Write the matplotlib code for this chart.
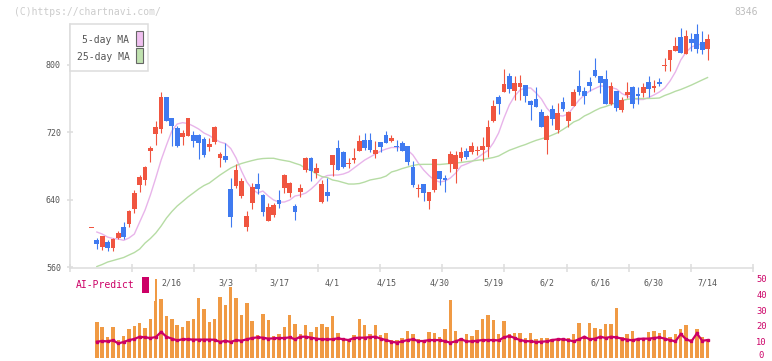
import numpy as np
import matplotlib
matplotlib.use("Agg")
import matplotlib.pyplot as plt
from matplotlib.patches import Rectangle
from matplotlib.transforms import blended_transform_factory, ScaledTranslation

# ---------------- data ----------------
opens = [607.5, 592.1, 584.2, 589.7, 582.9, 594.8, 607.9, 610.7, 628.6, 657.8,
         663.7, 698.2, 718.0, 724.3, 762.3, 737.0, 725.5, 714.1, 716.0, 716.8,
         716.8, 712.1, 702.6, 708.9, 689.9, 691.9, 652.7, 656.6, 644.4, 607.9,
         636.4, 658.6, 645.6, 615.0, 621.8, 639.6, 654.2, 648.3, 632.5, 649.1,
         675.3, 689.9, 672.0, 637.6, 649.1, 681.2, 701.4, 696.6, 682.4, 687.5,
         698.2, 710.9, 710.9, 694.6, 708.5, 716.8, 709.7, 703.8, 707.3, 703.8,
         678.8, 653.0, 658.6, 638.8, 651.9, 674.1, 666.1, 682.7, 676.4, 689.2,
         698.2, 696.6, 698.2, 699.0, 702.2, 733.1, 762.0, 767.9, 786.9, 769.5,
         774.2, 776.2, 757.2, 759.6, 744.2, 711.3, 747.7, 722.8, 756.0, 733.5,
         751.6, 775.1, 769.1, 779.8, 794.1, 786.9, 783.4, 753.7, 769.1, 746.5,
         764.7, 773.9, 765.5, 766.7, 779.8, 773.0, 779.8, 799.2, 805.9, 816.6,
         833.3, 813.1, 830.9, 836.8, 827.3, 819.0]
highs = [607.5, 594.5, 596.9, 592.1, 594.5, 602.8, 613.5, 627.7, 651.5, 669.0,
         679.5, 703.8, 733.5, 767.9, 762.3, 737.0, 727.9, 722.8, 737.0, 721.6,
         717.5, 714.8, 712.9, 727.0, 697.0, 707.7, 666.1, 682.4, 666.1, 626.6,
         659.5, 671.7, 646.8, 636.4, 636.4, 651.5, 670.5, 661.4, 634.9, 658.3,
         691.1, 691.1, 683.2, 663.4, 665.4, 693.1, 710.9, 697.8, 689.2, 701.0,
         716.8, 719.2, 719.2, 709.7, 708.5, 721.6, 716.8, 710.9, 709.7, 703.8,
         686.0, 658.6, 658.6, 649.1, 688.7, 674.1, 669.3, 698.2, 697.8, 702.2,
         701.7, 708.5, 703.8, 714.5, 734.7, 758.4, 764.4, 795.2, 790.5, 786.9,
         788.1, 776.2, 758.5, 773.9, 747.7, 740.6, 752.5, 754.9, 762.0, 745.4,
         771.5, 794.1, 773.9, 785.7, 808.3, 786.9, 794.1, 779.8, 769.1, 762.0,
         779.8, 775.1, 773.9, 778.6, 786.9, 782.2, 784.6, 808.3, 817.8, 833.3,
         844.0, 841.6, 838.0, 848.7, 840.4, 836.8]
lows = [607.5, 581.8, 580.2, 579.4, 578.7, 592.9, 592.9, 607.2, 624.5, 649.1,
        657.8, 685.1, 705.0, 719.6, 733.8, 704.1, 702.9, 705.0, 716.0, 702.9,
        688.0, 690.3, 698.2, 706.5, 679.2, 684.4, 607.5, 654.2, 641.6, 603.1,
        628.9, 647.1, 621.0, 615.0, 619.8, 629.8, 648.3, 642.8, 616.2, 643.2,
        672.5, 662.5, 666.1, 636.4, 638.8, 668.1, 675.3, 677.3, 678.0, 683.2,
        698.2, 699.4, 697.0, 689.9, 696.6, 707.3, 708.5, 697.8, 698.2, 681.2,
        655.1, 643.5, 638.8, 629.3, 649.5, 657.4, 649.5, 673.2, 660.2, 686.3,
        688.3, 693.9, 693.1, 686.3, 691.1, 732.3, 741.8, 767.9, 767.1, 758.4,
        758.4, 756.0, 734.7, 750.5, 726.7, 694.6, 728.7, 719.6, 745.4, 726.7,
        751.6, 763.8, 754.0, 769.1, 785.7, 766.7, 753.7, 752.5, 745.4, 744.2,
        760.8, 748.9, 753.7, 762.0, 762.0, 767.9, 775.1, 792.5, 793.2, 816.6,
        814.3, 813.1, 816.6, 813.9, 813.1, 805.9]
closes = [607.5, 587.7, 596.9, 582.6, 593.7, 600.4, 596.0, 626.9, 647.6, 667.0,
          678.5, 701.4, 726.3, 762.3, 733.8, 727.5, 704.1, 719.6, 737.0, 710.0,
          707.7, 693.4, 706.1, 726.3, 693.9, 687.5, 619.8, 675.3, 662.2, 620.6,
          655.1, 653.0, 625.7, 630.9, 633.7, 634.9, 669.3, 659.5, 625.7, 653.9,
          689.9, 674.1, 678.0, 658.6, 644.4, 693.1, 675.3, 678.8, 683.6, 689.9,
          709.7, 701.4, 699.4, 699.0, 702.6, 707.3, 713.3, 702.6, 698.2, 684.8,
          657.4, 654.2, 648.3, 649.1, 688.7, 664.6, 663.7, 694.3, 693.1, 697.0,
          690.7, 703.8, 699.0, 703.8, 726.3, 751.3, 754.0, 777.4, 771.8, 778.6,
          778.6, 763.5, 752.8, 750.5, 726.7, 739.4, 735.8, 743.0, 747.7, 744.2,
          767.9, 767.9, 763.2, 775.1, 787.3, 778.6, 753.7, 775.1, 748.9, 758.4,
          767.9, 753.7, 763.5, 773.9, 771.5, 775.4, 777.8, 800.4, 817.8, 822.6,
          814.3, 834.5, 825.8, 819.0, 817.8, 830.9]

# moving averages (from day 1)
ma5 = [601.6, 599.2, 595.6, 593.9, 593.3, 591.7, 594.5, 599.2, 613.5, 627.7,
       645.6, 665.8, 687.1, 704.9, 721.6, 729.9, 731.5, 730.5, 727.5, 724.0,
       719.2, 716.2, 712.1, 708.5, 706.7, 700.8, 689.5, 674.1, 661.0, 652.7,
       647.9, 650.3, 644.4, 639.6, 637.2, 637.2, 639.6, 644.4, 645.6, 647.9,
       652.7, 658.6, 665.8, 668.7, 669.3, 669.3, 670.5, 672.9, 677.6, 682.4,
       687.1, 690.7, 694.3, 697.8, 700.2, 702.0, 702.0, 702.0, 699.0, 693.1,
       683.6, 675.3, 668.7, 663.4, 661.0, 662.2, 665.8, 671.7, 680.0, 682.4,
       685.3, 689.5, 694.3, 698.4, 707.3, 719.2, 737.0, 752.5, 763.2, 770.3,
       772.7, 772.7, 766.7, 759.6, 748.9, 741.8, 740.0, 739.4, 741.8, 750.1,
       758.4, 764.4, 769.1, 772.1, 775.1, 774.5, 773.3, 771.5, 766.1, 763.2,
       760.8, 759.0, 759.0, 761.4, 764.4, 767.9, 772.7, 781.0, 791.7, 805.9,
       815.4, 821.4, 823.8, 824.9, 824.9]
ma25 = [560.6, 563.0, 565.9, 567.7, 569.5, 571.3, 574.3, 577.2, 581.4, 588.5,
        593.9, 600.4, 608.7, 618.2, 625.9, 632.5, 637.8, 643.2, 647.9, 652.7,
        656.8, 659.8, 664.6, 669.3, 673.5, 677.6, 680.6, 683.0, 684.8, 686.5,
        688.0, 688.9, 689.2, 689.2, 687.7, 686.5, 685.4, 683.2, 681.2, 677.0,
        674.7, 670.5, 667.5, 666.4, 663.4, 662.2, 660.4, 658.6, 658.6, 659.2,
        661.0, 663.4, 664.6, 665.8, 668.1, 672.9, 674.7, 677.0, 678.8, 680.6,
        681.8, 682.0, 682.0, 682.0, 681.8, 682.4, 683.0, 683.6, 684.2, 685.1,
        685.9, 686.8, 687.7, 688.9, 690.1, 691.9, 695.4, 698.7, 701.0, 703.4,
        705.5, 708.1, 710.5, 712.4, 714.1, 716.8, 719.5, 723.4, 727.5, 732.3,
        734.9, 739.4, 742.4, 745.9, 748.9, 750.7, 753.1, 755.4, 757.8, 759.2,
        760.0, 760.2, 760.2, 760.2, 760.4, 760.8, 763.8, 766.1, 768.8, 770.9,
        773.5, 776.2, 779.2, 782.2, 785.1]

# volume (from day 1) and AI-Predict line
volume = [22.5, 19.3, 13.0, 19.3, 11.1, 13.7, 18.1, 20.0, 22.1, 18.7,
          24.4, 49.5, 37.0, 26.3, 24.4, 20.6, 19.3, 23.1, 24.4, 37.6,
          30.6, 22.5, 24.4, 38.2, 33.2, 44.5, 37.6, 26.9, 34.4, 23.1,
          14.3, 27.5, 23.7, 13.7, 14.9, 19.3, 26.9, 21.2, 14.9, 20.6,
          16.2, 19.3, 21.2, 19.3, 26.3, 15.8, 10.5, 11.8, 14.3, 24.4,
          20.6, 14.9, 20.6, 14.3, 15.5, 11.1, 11.1, 12.4, 16.8, 14.9,
          11.8, 11.1, 16.2, 15.5, 13.0, 18.1, 36.3, 16.8, 12.4, 14.9,
          13.7, 17.4, 24.4, 26.9, 23.7, 14.9, 23.1, 14.9, 15.5, 15.5,
          12.4, 15.5, 11.8, 12.4, 12.4, 11.8, 11.8, 11.8, 12.4, 14.9,
          21.8, 13.0, 21.8, 18.7, 18.1, 21.2, 21.2, 31.3, 13.0, 14.9,
          16.8, 11.1, 12.4, 16.2, 16.8, 15.5, 17.4, 13.0, 14.9, 18.1,
          20.6, 11.8, 18.1, 13.0, 11.8]
ai_predict = [10.1, 10.5, 10.3, 11.0, 9.0, 9.9, 11.1, 11.8, 13.2, 12.8,
              12.4, 13.0, 16.2, 13.2, 12.0, 10.9, 11.6, 11.6, 11.4, 11.4,
              11.4, 11.4, 11.3, 9.9, 10.7, 9.9, 11.1, 10.7, 11.6, 12.4,
              12.8, 12.6, 12.0, 12.2, 12.4, 12.4, 12.8, 11.6, 13.2, 13.2,
              12.6, 12.0, 11.6, 11.6, 11.6, 12.2, 11.6, 11.1, 12.4, 12.6,
              12.6, 13.0, 13.2, 12.0, 11.1, 10.1, 9.5, 10.3, 11.1, 11.6,
              10.5, 10.5, 11.1, 11.1, 11.1, 10.3, 9.5, 10.3, 11.6, 10.3,
              10.3, 10.7, 11.1, 11.1, 11.1, 10.9, 12.8, 13.7, 12.4, 11.1,
              10.5, 10.3, 9.9, 10.1, 10.3, 11.1, 11.6, 11.6, 11.1, 10.3,
              11.6, 13.2, 11.6, 12.0, 13.2, 12.4, 13.2, 12.8, 12.0, 11.4,
              10.9, 11.8, 12.0, 12.0, 12.4, 12.8, 12.0, 11.1, 10.3, 14.9,
              11.6, 10.3, 15.3, 10.7, 11.1]

date_labels = ['2/16', '3/3', '3/17', '4/1', '4/15', '4/30',
               '5/19', '6/2', '6/16', '6/30', '7/14']
date_pos = [15, 25, 35, 45, 55, 65, 75, 85, 95, 105, 115]
price_ticks = [560, 640, 720, 800]
vol_ticks = [0, 10, 20, 30, 40, 50]

# ---------------- style ----------------
RED = '#f05540'
BLUE = '#3f7af0'
ORANGE = '#f09a44'
CRIMSON = '#cc0066'
PINK = '#e8b4ea'
GREEN = '#b6dca4'
GRID = '#dddddd'
TXT = '#555555'
MONO = 'DejaVu Sans Mono'

W, H = 772, 361
fig = plt.figure(figsize=(W / 100, H / 100), dpi=100)


def fx(x):
    return x / W


def fy(y):
    return 1 - y / H


X0, X1 = 70, 752.7
ax = fig.add_axes([fx(X0), fy(268.3), fx(X1) - fx(X0), fy(24) - fy(268.3)])
ax.set_xlim(-4.01, 123.43)
ax.set_ylim(558.5, 848.7)

o = np.array(opens); h = np.array(highs); l = np.array(lows); c = np.array(closes)
idx = np.arange(len(o))
cols = np.where(c >= o, RED, BLUE)
ax.vlines(idx, l, h, colors=cols, lw=0.8, zorder=3)
body = np.abs(c - o)
bh = np.maximum(body, 1.2)
bb = np.where(body < 1.2, (o + c) / 2 - 0.6, np.minimum(o, c))
ax.bar(idx, bh, bottom=bb, width=0.88, color=cols, linewidth=0, zorder=4)

mx = np.arange(1, len(ma5) + 1)
ax.plot(mx, ma5, color=PINK, lw=1.0, zorder=2)
ax.plot(mx, ma25, color=GREEN, lw=1.0, zorder=2)

for s in ['top', 'right']:
    ax.spines[s].set_visible(False)
for s in ['left', 'bottom']:
    ax.spines[s].set_color(GRID)
    ax.spines[s].set_linewidth(1.1)
xl = ax.get_xlim()
ax.set_xticks(np.linspace(xl[0], xl[1], 12))
ax.set_xticklabels([])
ax.tick_params(axis='x', direction='inout', length=6, width=1.1, color=GRID)
ax.set_yticks(price_ticks)
ax.set_yticklabels([str(t) for t in price_ticks], fontfamily=MONO,
                   fontsize=6, color=TXT)
ax.tick_params(axis='y', direction='inout', length=5, width=1.1, color=GRID, pad=4)

# volume panel
axv = fig.add_axes([fx(X0), fy(357.7), fx(X1) - fx(X0), fy(278.3) - fy(357.7)])
axv.set_xlim(xl)
axv.set_ylim(0, 50)
vx = np.arange(1, len(volume) + 1)
axv.bar(vx, volume, width=0.64, color=ORANGE, linewidth=0, zorder=2)
axv.plot(vx, ai_predict, color=CRIMSON, lw=1.6, marker='s', ms=2.0,
         zorder=3, solid_joinstyle='miter')
for s in axv.spines.values():
    s.set_visible(False)
axv.set_xticks([])
axv.yaxis.tick_right()
axv.set_yticks(vol_ticks)
axv.set_yticklabels([str(t) for t in vol_ticks], fontfamily=MONO,
                    fontsize=6.3, color=CRIMSON)
axv.tick_params(axis='y', length=0, pad=6.3)
for t in axv.get_yticklabels():
    t.set_horizontalalignment('center')
# keep the bottom "0" label inside the picture
zero_lab = axv.get_yticklabels()[0]
zero_lab.set_transform(zero_lab.get_transform() +
                       ScaledTranslation(0, 2.5 / 72, fig.dpi_scale_trans))
axv.patch.set_alpha(0)

# date labels
tr = blended_transform_factory(axv.transData, fig.transFigure)
for p, lab in zip(date_pos, date_labels):
    fig.text(p, fy(282.5), lab, transform=tr, ha='center', va='center',
             fontfamily=MONO, fontsize=6, color=TXT)

# AI-Predict label box
fig.patches.append(Rectangle((fx(60), fy(301)), fx(155) - fx(60), fy(274) - fy(301),
                             transform=fig.transFigure, facecolor='white',
                             edgecolor='none', zorder=5))
fig.text(fx(76), fy(285.5), 'AI-Predict', ha='left', va='center',
         fontfamily=MONO, fontsize=7, color=CRIMSON, zorder=6)
fig.patches.append(Rectangle((fx(142), fy(292.7)), fx(6.7), 16 / H,
                             transform=fig.transFigure, facecolor=CRIMSON,
                             edgecolor='none', zorder=6))

# legend box
fig.patches.append(Rectangle((fx(70), fy(71.3)), fx(78.3), 47.3 / H,
                             transform=fig.transFigure, facecolor='white',
                             edgecolor=GRID, lw=1.1, zorder=5))
fig.text(fx(129.5), fy(40), '5-day MA', ha='right', va='center',
         fontfamily=MONO, fontsize=7, color=TXT, zorder=6)
fig.text(fx(129.5), fy(57.3), '25-day MA', ha='right', va='center',
         fontfamily=MONO, fontsize=7, color=TXT, zorder=6)
fig.patches.append(Rectangle((fx(136.3), fy(46.3)), fx(6.3), 15.3 / H,
                             transform=fig.transFigure, facecolor='#f0c0f0',
                             edgecolor='#666666', lw=0.8, zorder=6))
fig.patches.append(Rectangle((fx(136.3), fy(63.3)), fx(6.3), 15.3 / H,
                             transform=fig.transFigure, facecolor='#c0e2b0',
                             edgecolor='#666666', lw=0.8, zorder=6))

# watermark / code
fig.text(fx(14), fy(12), '(C)https://chartnavi.com/', ha='left', va='center',
         fontfamily=MONO, fontsize=7, color='#cccccc')
fig.text(fx(757.5), fy(12), '8346', ha='right', va='center',
         fontfamily=MONO, fontsize=7, color='#bdbdbd')

fig.savefig('out.png', dpi=100)
